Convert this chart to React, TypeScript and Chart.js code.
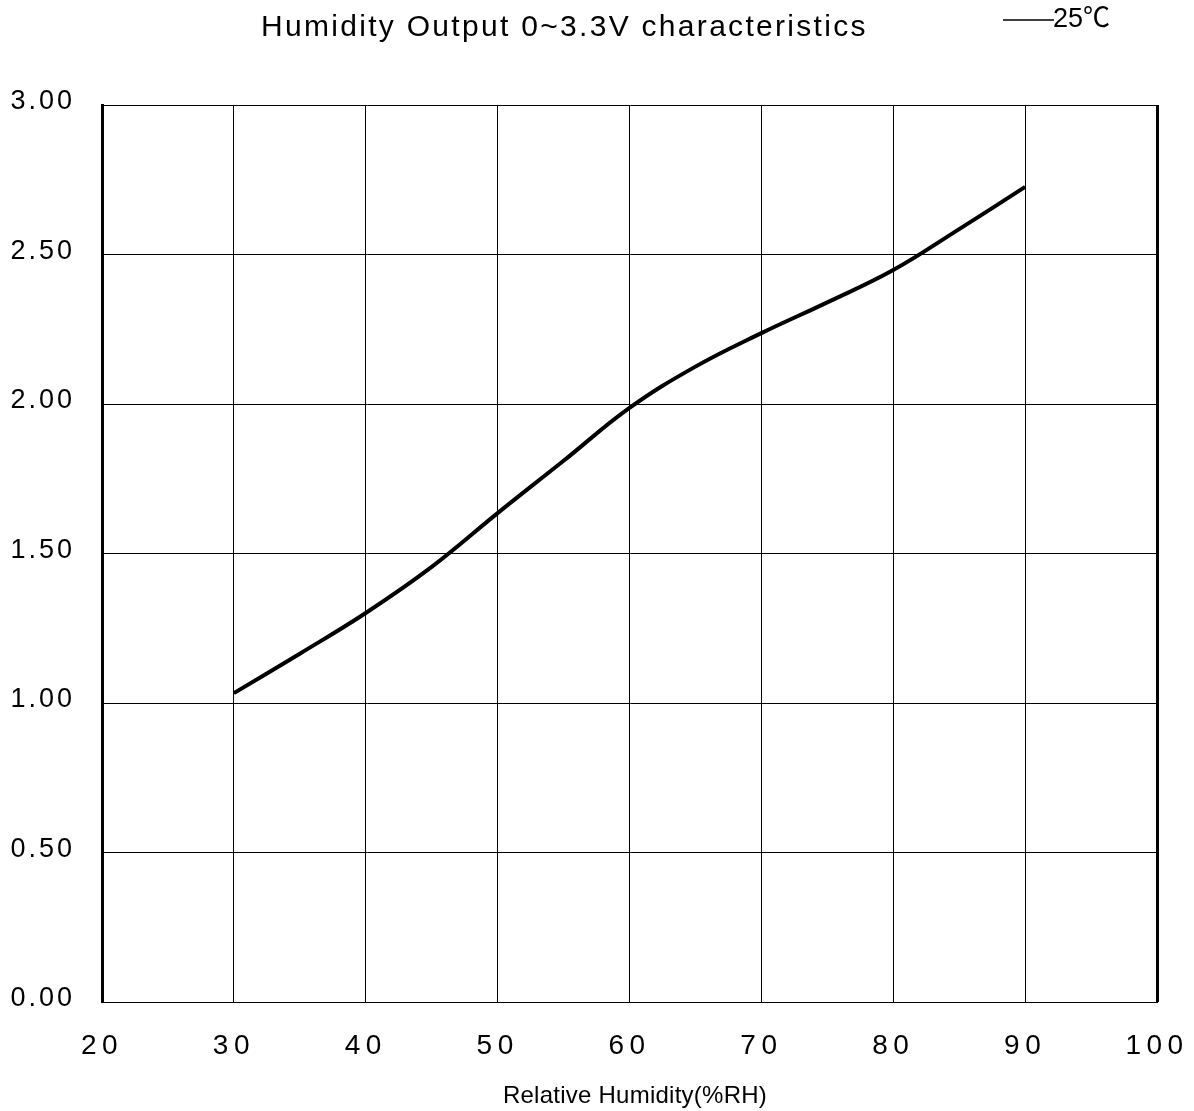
import React, { useEffect, useRef } from "react";
import { Chart, registerables } from "chart.js";

Chart.register(...registerables);

// ---- data ----
const humidity = [30, 35, 40, 45, 50, 55, 60, 65, 70, 75, 80, 85, 90];
const voltage = [1.033, 1.165, 1.301, 1.455, 1.635, 1.81, 1.987, 2.125, 2.237, 2.34, 2.448, 2.585, 2.726];
const xTickValues = [20, 30, 40, 50, 60, 70, 80, 90, 100];
const yTickValues = [0, 0.5, 1, 1.5, 2, 2.5, 3];
const titleText = "Humidity Output 0~3.3V characteristics";
const xAxisTitle = "Relative Humidity(%RH)";
const seriesLabel = "25℃";

const FONT = '"Liberation Sans", Arial, "Noto Sans CJK SC", sans-serif';

const textPlugin = {
  id: "textPlugin",
  beforeDraw(chart: any) {
    // y-axis tick labels (drawn before datasets)
    chart.ctx.letterSpacing = "3px";
  },
  beforeDatasetsDraw(chart: any) {
    // x-axis tick labels are drawn after datasets (z = 1)
    chart.ctx.letterSpacing = "5.5px";
  },
  afterDraw(chart: any) {
    const ctx = chart.ctx as CanvasRenderingContext2D;
    ctx.save();
    ctx.fillStyle = "#000";
    ctx.textBaseline = "alphabetic";

    // title
    (ctx as any).letterSpacing = "2.3px";
    ctx.font = `30px ${FONT}`;
    ctx.textAlign = "left";
    ctx.fillText(titleText, 261, 36);

    // legend
    (ctx as any).letterSpacing = "0px";
    ctx.strokeStyle = "#000";
    ctx.lineWidth = 1.5;
    ctx.beginPath();
    ctx.moveTo(1003, 20);
    ctx.lineTo(1054, 20);
    ctx.stroke();
    ctx.font = `27px ${FONT}`;
    ctx.fillText(seriesLabel, 1053, 27);

    // x-axis title
    (ctx as any).letterSpacing = "0.25px";
    ctx.font = `24px ${FONT}`;
    ctx.textAlign = "center";
    ctx.fillText(xAxisTitle, 635, 1103);

    ctx.restore();
    (ctx as any).letterSpacing = "0px";
  },
};

export default function App() {
  const canvasRef = useRef<HTMLCanvasElement | null>(null);

  useEffect(() => {
    const canvas = canvasRef.current;
    if (!canvas) return;
    const chart = new Chart(canvas, {
      type: "line",
      data: {
        datasets: [
          {
            label: seriesLabel,
            data: humidity.map((h, i) => ({ x: h, y: voltage[i] })),
            borderColor: "#000",
            backgroundColor: "#000",
            borderWidth: 4,
            pointRadius: 0,
            tension: 0.4,
            fill: false,
          },
        ],
      },
      options: {
        animation: false,
        responsive: false,
        devicePixelRatio: 1,
        layout: { padding: { top: 105, right: 37, bottom: 0, left: 0 } },
        plugins: {
          legend: { display: false },
          title: { display: false },
          tooltip: { enabled: false },
        },
        scales: {
          x: {
            type: "linear",
            min: xTickValues[0],
            max: xTickValues[xTickValues.length - 1],
            afterBuildTicks: (scale: any) => {
              scale.ticks = xTickValues.map((v) => ({ value: v }));
            },
            afterFit: (scale: any) => {
              scale.height = 109;
              scale.paddingLeft = 0;
              scale.paddingRight = 0;
            },
            grid: {
              color: "#000",
              lineWidth: (c: any) => (c.tick && c.tick.value === 100 ? 3 : 1),
              drawTicks: false,
            },
            border: { display: true, color: "#000", width: 1 },
            ticks: {
              z: 1,
              padding: 27,
              color: "#000",
              font: { family: FONT, size: 28 },
              maxRotation: 0,
              autoSkip: false,
              callback: (v: any) => String(v),
            },
          },
          y: {
            type: "linear",
            min: yTickValues[0],
            max: yTickValues[yTickValues.length - 1],
            afterBuildTicks: (scale: any) => {
              scale.ticks = yTickValues.map((v) => ({ value: v }));
            },
            afterFit: (scale: any) => {
              scale.width = 102;
              scale.paddingTop = 0;
              scale.paddingBottom = 0;
            },
            grid: {
              color: "#000",
              lineWidth: 1,
              drawTicks: false,
            },
            border: { display: true, color: "#000", width: 3 },
            ticks: {
              padding: 27,
              labelOffset: -3,
              color: "#000",
              font: { family: FONT, size: 27 },
              autoSkip: false,
              callback: (v: any) => Number(v).toFixed(2),
            },
          },
        },
      } as any,
      plugins: [textPlugin],
    });
    return () => chart.destroy();
  }, []);

  return (
    <div style={{ position: "fixed", left: 0, top: 0, width: 1194, height: 1111, background: "#fff" }}>
      <canvas ref={canvasRef} width={1194} height={1111} style={{ width: 1194, height: 1111 }} />
    </div>
  );
}
